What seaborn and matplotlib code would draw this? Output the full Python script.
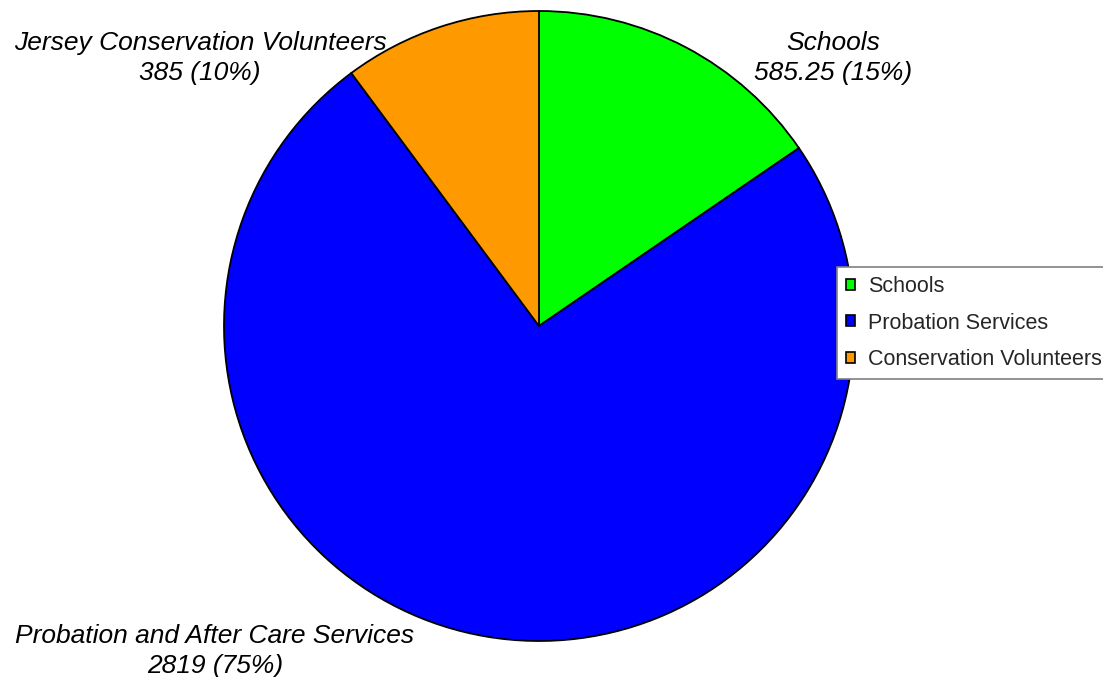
import matplotlib
matplotlib.use("Agg")
import matplotlib.pyplot as plt
import seaborn as sns

sns.set_theme(style="white")
plt.rcParams['font.family'] = ['Liberation Sans', 'DejaVu Sans']

categories = ["Schools", "Probation Services", "Conservation Volunteers"]
label_names = ["Schools", "Probation and After Care Services", "Jersey Conservation Volunteers"]
values = [585.25, 2819, 385]
percents = [15, 75, 10]
colors = ["#00FF00", "#0000FF", "#FF9900"]

W, H = 1103, 677
fig = plt.figure(figsize=(W / 100, H / 100), dpi=100)
ax = fig.add_axes([0, 0, 1, 1])

cx, cy, r = 539, H - 326, 315
wedges, _ = ax.pie(values, colors=colors, startangle=90, counterclock=False,
                   center=(cx, cy), radius=r, frame=True,
                   wedgeprops=dict(edgecolor='black', linewidth=1.3))
ax.set_xlim(0, W)
ax.set_ylim(0, H)
ax.set_aspect('equal')
ax.axis('off')

# label block centres (pixels from top-left)
label_pos = [(833, 58), (215, 651), (200, 58)]
for name, v, pct, (lx, ly) in zip(label_names, values, percents, label_pos):
    ax.text(lx, H - ly, f"{name}\n{v:g} ({pct}%)", ha='center', va='center',
            fontsize=19, style='italic', linespacing=1.3, color='black')

leg = ax.legend(wedges, categories, loc='upper left',
                bbox_to_anchor=(837 / W, 1 - 267 / H), bbox_transform=fig.transFigure,
                fontsize=15.5, frameon=True, fancybox=False, framealpha=1,
                handlelength=0.42, handleheight=0.42, handletextpad=0.6,
                borderaxespad=0, labelspacing=0.72, borderpad=0.42)
leg.get_frame().set_edgecolor('#808080')
leg.get_frame().set_linewidth(1.2)
for h in leg.legend_handles:
    h.set_edgecolor('black')
    h.set_linewidth(1.2)

fig.savefig("out.png", dpi=100, facecolor='white')
